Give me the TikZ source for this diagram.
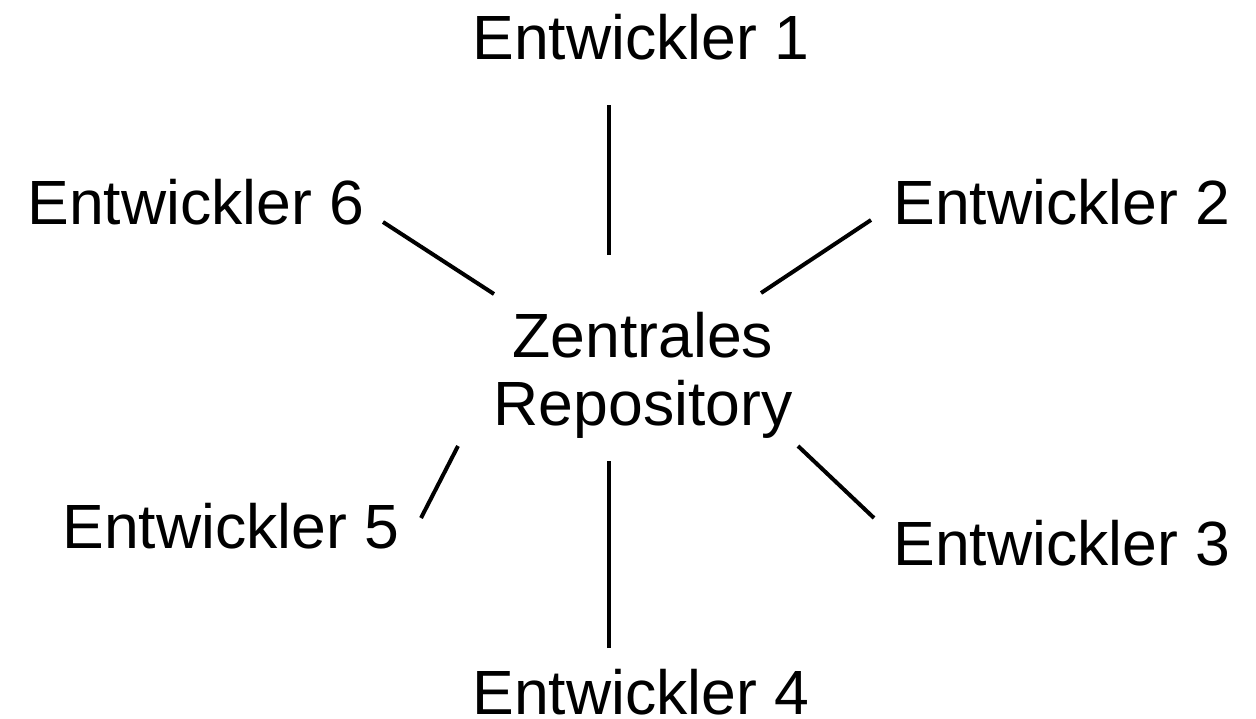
\documentclass[tikz,border=0pt]{standalone}
\usepackage{fontspec}
\setmainfont{Liberation Sans}
\begin{document}
\begin{tikzpicture}[x=1pt,y=-1pt,
  lbl/.style={font=\fontsize{62.5}{68}\selectfont, inner sep=0pt, align=center, anchor=base},
  conn/.style={line width=4pt}]
\useasboundingbox (0,0) rectangle (1256,718);
\node[lbl] (repo) at (643,425) {Zentrales\\Repository};
\node[lbl] (e1) at (641,59) {Entwickler 1};
\node[lbl] (e2) at (1062,224) {Entwickler 2};
\node[lbl] (e3) at (1062,565) {Entwickler 3};
\node[lbl] (e4) at (641,714) {Entwickler 4};
\node[lbl] (e5) at (231,548) {Entwickler 5};
\node[lbl] (e6) at (196,224) {Entwickler 6};
\coordinate (a1) at (609,105); \coordinate (b1) at (609,255);
\coordinate (a2) at (871,220); \coordinate (b2) at (761,293);
\coordinate (a3) at (874,518); \coordinate (b3) at (798,446);
\coordinate (a4) at (609,648); \coordinate (b4) at (609,461);
\coordinate (a5) at (421,518); \coordinate (b5) at (458,446);
\coordinate (a6) at (383,222); \coordinate (b6) at (494,294);
\foreach \i in {1,...,6} {\draw[conn] (a\i) -- (b\i);}
\end{tikzpicture}
\end{document}
